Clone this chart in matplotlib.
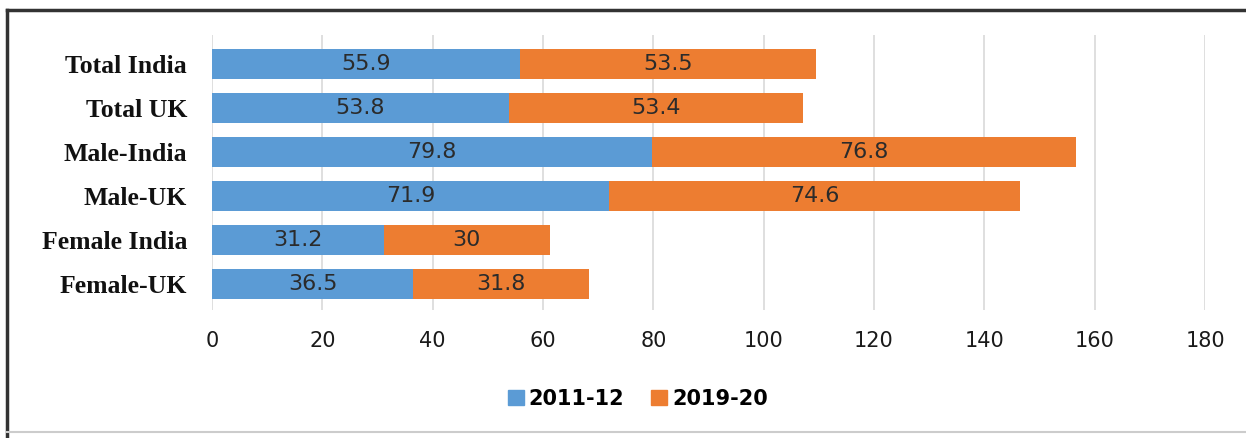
import matplotlib.pyplot as plt
from matplotlib.patches import Patch

categories = ['Total India', 'Total UK', 'Male-India', 'Male-UK', 'Female India', 'Female-UK']
y2011 = [55.9, 53.8, 79.8, 71.9, 31.2, 36.5]
y2019 = [53.5, 53.4, 76.8, 74.6, 30, 31.8]
series_names = ['2011-12', '2019-20']
xticks = [0, 20, 40, 60, 80, 100, 120, 140, 160, 180]

blue = '#5B9BD5'
orange = '#ED7D31'
W, H = 1246, 438

fig = plt.figure(figsize=(W / 100, H / 100), dpi=100)
ax = fig.add_axes([212 / W, 1 - 310 / H, (1205 - 212) / W, (310 - 35) / H])

pos = list(range(len(categories)))
ax.barh(pos, y2011, height=0.68, color=blue, zorder=3)
ax.barh(pos, y2019, left=y2011, height=0.68, color=orange, zorder=3)

# value labels centred in each segment
for i, (a, b) in enumerate(zip(y2011, y2019)):
    ax.text(a / 2, i, f'{a:g}', ha='center', va='center', fontsize=16,
            family='DejaVu Sans', color='#2b2b2b', zorder=4)
    ax.text(a + b / 2, i, f'{b:g}', ha='center', va='center', fontsize=16,
            family='DejaVu Sans', color='#2b2b2b', zorder=4)

ax.set_xlim(0, 180)
ax.set_ylim(5.58, -0.66)
ax.set_xticks(xticks)
ax.set_xticklabels([str(t) for t in xticks], family='DejaVu Sans', fontsize=15, color='#1a1a1a')
ax.set_yticks(pos)
ax.set_yticklabels(categories, family='Liberation Serif', fontweight='bold', fontsize=18.5, color='#111111')
ax.tick_params(axis='both', length=0)
ax.tick_params(axis='x', pad=15)
ax.tick_params(axis='y', pad=18)
ax.grid(axis='x', color='#d9d9d9', lw=1.2, zorder=0)
for s in ax.spines.values():
    s.set_visible(False)

handles = [Patch(color=blue, label=series_names[0]), Patch(color=orange, label=series_names[1])]
fig.legend(handles=handles, loc='center', bbox_to_anchor=(638 / W, 1 - 399 / H), ncol=2,
           frameon=False, prop={'family': 'DejaVu Sans', 'weight': 'bold', 'size': 15},
           handlelength=0.75, handleheight=0.75, handletextpad=0.25, columnspacing=1.3)

# outer frame
fig.add_artist(plt.Line2D([7 / W, 7 / W], [0, 1 - 10 / H], transform=fig.transFigure, color='#333333', lw=2.5))
fig.add_artist(plt.Line2D([7 / W, 1], [1 - 10 / H, 1 - 10 / H], transform=fig.transFigure, color='#333333', lw=2.5))
fig.add_artist(plt.Line2D([7 / W, 1], [1 - 432 / H, 1 - 432 / H], transform=fig.transFigure, color='#cccccc', lw=1.5))

fig.savefig('out.png', dpi=100)
